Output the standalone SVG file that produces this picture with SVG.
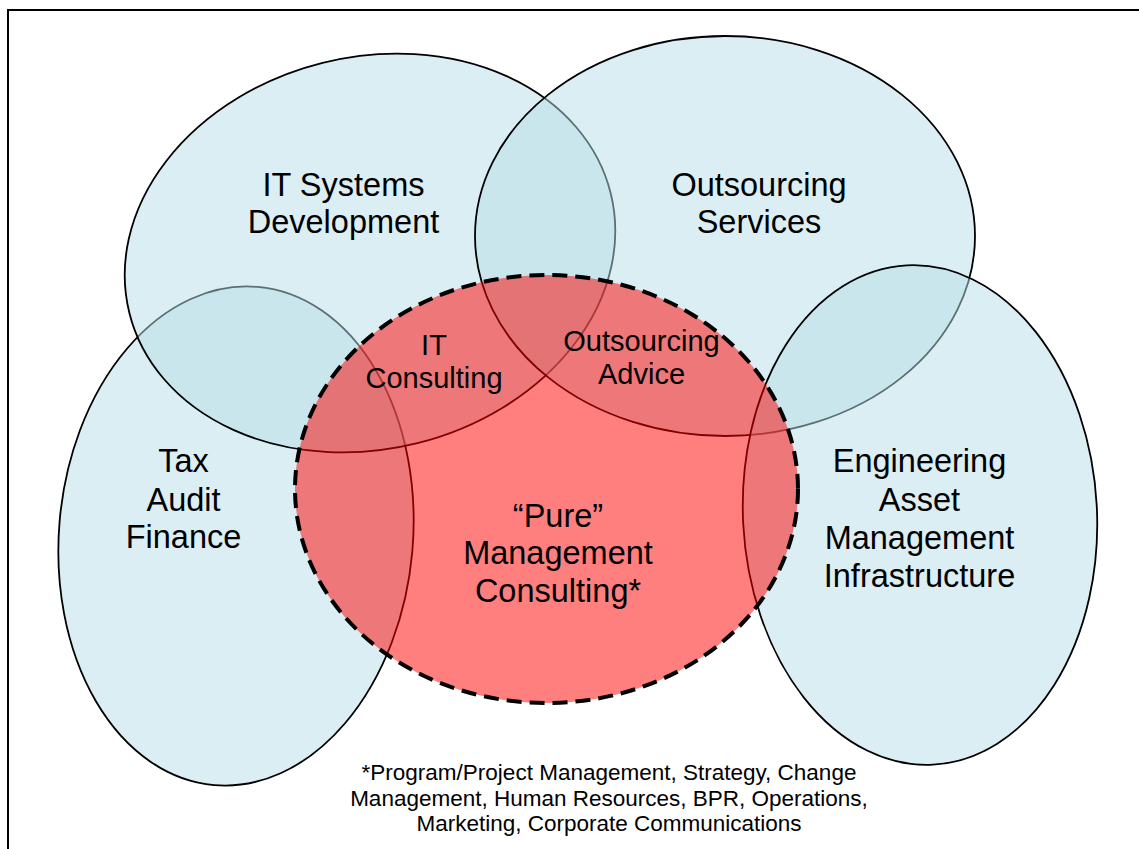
<svg xmlns="http://www.w3.org/2000/svg" width="1139" height="849" viewBox="0 0 1139 849">
  <style>
    .area { fill: #B7DDE8; fill-opacity: 0.5; stroke: #000; stroke-width: 1.8; }
    .core { fill: #FF0000; fill-opacity: 0.5; stroke: #000; stroke-width: 4; stroke-dasharray: 15 8; }
    text { font-family: "Liberation Sans", Arial, sans-serif; fill: #000; text-anchor: middle; }
    .big { font-size: 32.5px; }
    .mid { font-size: 29px; }
    .note { font-size: 22.5px; }
  </style>

  <rect width="1139" height="849" fill="#fff"/>
  <!-- page frame -->
  <rect x="8" y="10" width="1150" height="860" fill="none" stroke="#000" stroke-width="2"/>

  <!-- service areas: later ones sit over earlier outlines -->
  <g id="tax-audit-finance">
    <ellipse class="area" cx="236" cy="536" rx="177" ry="250" transform="rotate(5 236 536)"/>
    <text class="big" x="183.5" y="472">Tax</text>
    <text class="big" x="183.5" y="511">Audit</text>
    <text class="big" x="183.5" y="548">Finance</text>
  </g>

  <g id="it-systems-development">
    <ellipse class="area" cx="370" cy="253" rx="248" ry="196" transform="rotate(-14 370 253)"/>
    <text class="big" x="343.5" y="196">IT Systems</text>
    <text class="big" x="343.5" y="233">Development</text>
  </g>

  <g id="outsourcing-services">
    <ellipse class="area" cx="725" cy="236" rx="250" ry="200"/>
    <text class="big" x="759" y="196">Outsourcing</text>
    <text class="big" x="759" y="233">Services</text>
  </g>

  <g id="engineering">
    <ellipse class="area" cx="920" cy="515" rx="177" ry="250" transform="rotate(-3 920 515)"/>
    <text class="big" x="919.5" y="472">Engineering</text>
    <text class="big" x="919.5" y="511">Asset</text>
    <text class="big" x="919.5" y="549">Management</text>
    <text class="big" x="919.5" y="587">Infrastructure</text>
  </g>

  <!-- core offering, drawn over the overlaps -->
  <g id="pure-management-consulting">
    <ellipse class="core" cx="546.5" cy="489" rx="251.5" ry="214"/>
    <text class="big" x="558" y="527">“Pure”</text>
    <text class="big" x="558" y="564">Management</text>
    <text class="big" x="558" y="602">Consulting*</text>
  </g>

  <g id="it-consulting">
    <text class="mid" x="434" y="355">IT</text>
    <text class="mid" x="434" y="388">Consulting</text>
  </g>

  <g id="outsourcing-advice">
    <text class="mid" x="641.5" y="351">Outsourcing</text>
    <text class="mid" x="641.5" y="384">Advice</text>
  </g>

  <g id="footnote">
    <text class="note" x="609" y="780">*Program/Project Management, Strategy, Change</text>
    <text class="note" x="609" y="806">Management, Human Resources, BPR, Operations,</text>
    <text class="note" x="609" y="831">Marketing, Corporate Communications</text>
  </g>
</svg>
